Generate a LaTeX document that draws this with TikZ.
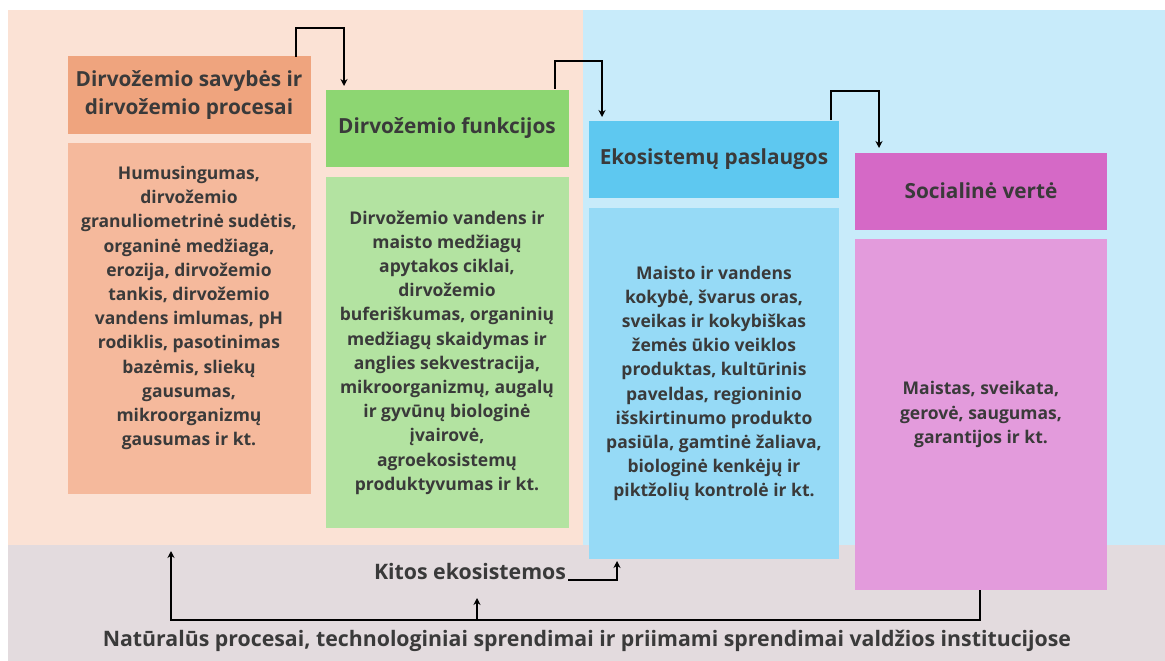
\documentclass[tikz,border=0pt]{standalone}
\usepackage{fontspec}
\setmainfont{Open Sans}
\usetikzlibrary{arrows.meta}
\definecolor{bgpeach}{HTML}{FBE2D5}
\definecolor{bgblue}{HTML}{C8EBFA}
\definecolor{bggray}{HTML}{E3DBDE}
\definecolor{hOrange}{HTML}{EFA47E}
\definecolor{bOrange}{HTML}{F5B99C}
\definecolor{hGreen}{HTML}{8DD672}
\definecolor{bGreen}{HTML}{B3E3A1}
\definecolor{hBlue}{HTML}{5EC8F0}
\definecolor{bBlue}{HTML}{96DAF6}
\definecolor{hMag}{HTML}{D569C6}
\definecolor{bMag}{HTML}{E39BDC}
\definecolor{txt}{HTML}{3A3A3A}
\tikzset{
  boxnode/.style={draw=none, inner sep=0pt, minimum width=243pt, text=txt, align=center},
  headbox/.style={boxnode, minimum height=77pt, font=\bfseries\fontsize{20.8}{28}\selectfont},
  bodybox/.style={boxnode, minimum height=351pt, font=\bfseries\fontsize{17.5}{24.2}\selectfont},
  bodytext/.style={text=txt, align=center, inner sep=0pt, font=\bfseries\fontsize{17.5}{24.2}\selectfont},
  bigtext/.style={text=txt, inner sep=0pt, font=\bfseries\fontsize{21.3}{24}\selectfont},
  conn/.style={draw=black, line width=1.6pt, -{Stealth[length=7pt,width=7pt]}}
}
\begin{document}
\begin{tikzpicture}[x=1pt,y=-1pt]
\useasboundingbox (0,0) rectangle (1165,661);
\fill[white] (0,0) rectangle (1165,661);
\fill[bgpeach] (8,10) rectangle (583,545);
\fill[bgblue] (583,10) rectangle (1165,545);
\fill[bggray] (8,545) rectangle (1165,661);

% Box 1
\node[headbox, fill=hOrange] (h1) at (189,95) {Dirvožemio savybės ir\\dirvožemio procesai};
\node[bodybox, fill=bOrange] (b1) at (189,318.5) {};
\node[bodytext] (t1) at (189,308) {Humusingumas,\\dirvožemio\\granuliometrinė sudėtis,\\organinė medžiaga,\\erozija, dirvožemio\\tankis, dirvožemio\\vandens imlumas, pH\\rodiklis, pasotinimas\\bazėmis, sliekų\\gausumas,\\mikroorganizmų\\gausumas ir kt.};

% Box 2
\node[headbox, fill=hGreen] (h2) at (447,128.5) {Dirvožemio funkcijos};
\node[bodybox, fill=bGreen] (b2) at (447,352.5) {Dirvožemio vandens ir\\maisto medžiagų\\apytakos ciklai,\\dirvožemio\\buferiškumas, organinių\\medžiagų skaidymas ir\\anglies sekvestracija,\\mikroorganizmų, augalų\\ir gyvūnų biologinė\\įvairovė,\\agroekosistemų\\produktyvumas ir kt.};

% Box 3
\node[headbox, fill=hBlue, minimum width=250pt] (h3) at (714,159.5) {Ekosistemų paslaugos};
\node[bodybox, fill=bBlue, minimum width=250pt] (b3) at (714,383.5) {Maisto ir vandens\\kokybė, švarus oras,\\sveikas ir kokybiškas\\žemės ūkio veiklos\\produktas, kultūrinis\\paveldas, regioninio\\išskirtinumo produkto\\pasiūla, gamtinė žaliava,\\biologinė kenkėjų ir\\piktžolių kontrolė ir kt.};

% Box 4
\node[headbox, fill=hMag, minimum width=252pt] (h4) at (981,191) {Socialinė vertė};
\node[bodybox, fill=bMag, minimum width=252pt] (b4) at (981,414.5) {Maistas, sveikata,\\gerovė, saugumas,\\garantijos ir kt.};

% top connectors
\coordinate (a1s) at (296,57);
\coordinate (a1e) at (344,86);
\draw[conn] (a1s) -- (296,28) -| (a1e);
\coordinate (a2s) at (555,89);
\coordinate (a2e) at (602,117);
\draw[conn] (a2s) -- (555,61) -| (a2e);
\coordinate (a3s) at (831,120);
\coordinate (a3e) at (879,148);
\draw[conn] (a3s) -- (831,91) -| (a3e);

% bottom texts
\node[bigtext] (kitos) at (470,572) {Kitos ekosistemos};
\node[bigtext] (nat) at (587,641) {Natūralūs procesai, technologiniai sprendimai ir priimami sprendimai valdžios institucijose};

% bottom connectors
\coordinate (kEnd) at ([xshift=2pt]kitos.base east);
\coordinate (b3in) at (617,561);
\draw[conn] (kEnd) -- (617,580) -- (b3in);
\coordinate (peachIn) at (171,551);
\coordinate (junc) at (477,620);
\coordinate (b4out) at (980,590);
\draw[conn] (b4out) -- (980,620) -- (171,620) -- (peachIn);
\draw[conn] (junc) -- (477,598);
\end{tikzpicture}
\end{document}
